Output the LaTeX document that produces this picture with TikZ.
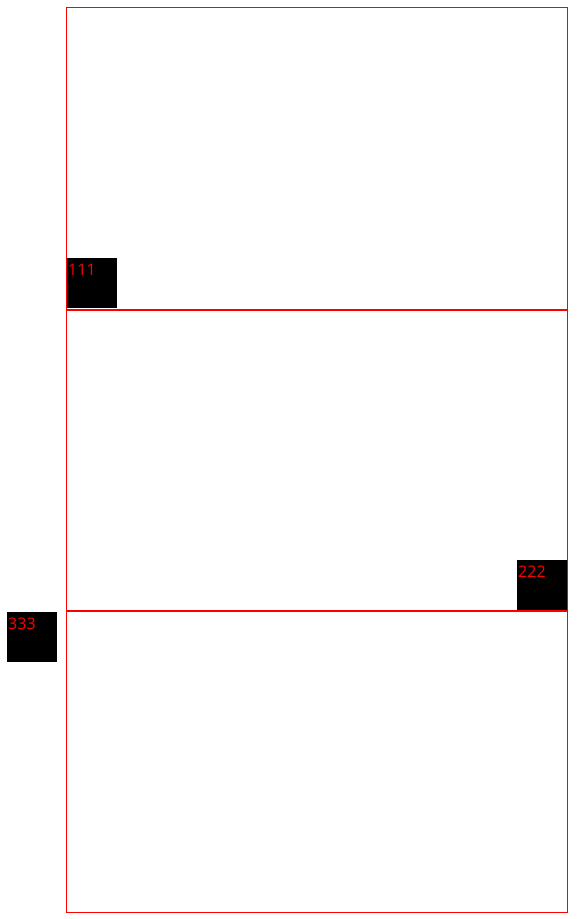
\documentclass[tikz,border=0pt]{standalone}
\usepackage{fontspec}
\setmainfont{Open Sans}
\usetikzlibrary{positioning}

\begin{document}
\begin{tikzpicture}[x=1pt, y=-1pt, font=\fontsize{16}{18}\selectfont,
    blackbox/.style={fill=black, draw=none, inner sep=0, minimum size=50pt, anchor=north west},
    tagtext/.style={text=red, inner sep=0, anchor=base west}]
    \useasboundingbox (0,0) rectangle (583,919);

    % frame and dividers
    \draw[red, line width=1pt] (66.5,7.5) rectangle (567.5,912.5);
    \coordinate (d1l) at (66,309.5);
    \coordinate (d1r) at (568,309.5);
    \coordinate (d2l) at (66,610.5);
    \coordinate (d2r) at (568,610.5);
    \draw[red, line width=2pt] (d1l) -- (d1r);
    \draw[red, line width=2pt] (d2l) -- (d2r);

    % tags
    \node[blackbox] (b111) at (67,258) {};
    \node[tagtext] (t111) at ([xshift=1pt, yshift=-17pt]b111.north west) {111};

    \node[blackbox] (b222) at (517,560) {};
    \node[tagtext] (t222) at ([xshift=1pt, yshift=-17pt]b222.north west) {222};

    \node[blackbox] (b333) at (7,612) {};
    \node[tagtext] (t333) at ([xshift=1pt, yshift=-17pt]b333.north west) {333};
\end{tikzpicture}
\end{document}
